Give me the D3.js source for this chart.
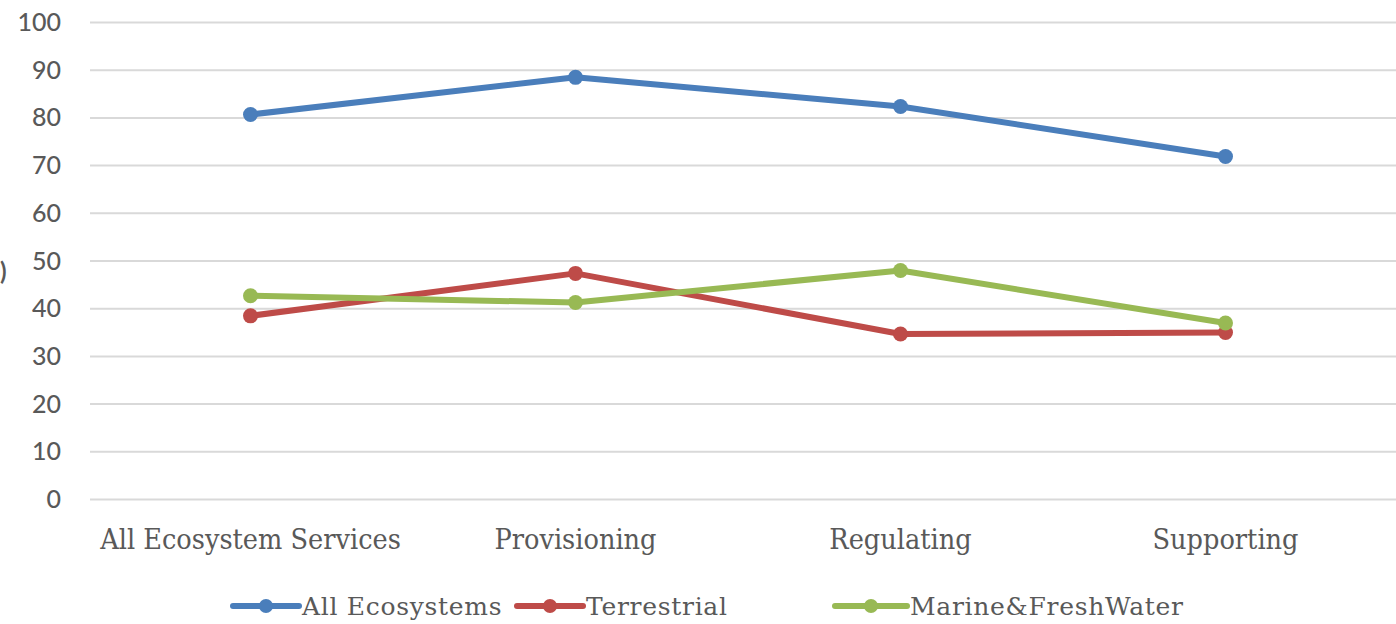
<!DOCTYPE html>
<html><head><meta charset="utf-8">
<script src="https://cdn.jsdelivr.net/npm/d3@7"></script>
<style>
body{margin:0;background:#fff;}
svg{display:block;}
</style></head>
<body>
<svg id="chart" width="1396" height="624"></svg>
<script>
const categories = ["All Ecosystem Services", "Provisioning", "Regulating", "Supporting"];
const allEcosystems = [80.6, 88.4, 82.3, 71.8];
const terrestrial = [38.4, 47.3, 34.6, 34.9];
const marineFresh = [42.6, 41.2, 47.9, 36.9];
const seriesNames = ["All Ecosystems", "Terrestrial", "Marine&FreshWater"];
const seriesColors = ["#4a7ebb", "#be4b48", "#98b954"];
const yTicks = [0, 10, 20, 30, 40, 50, 60, 70, 80, 90, 100];

const series = [allEcosystems, terrestrial, marineFresh].map((v, i) => ({name: seriesNames[i], color: seriesColors[i], values: v}));

const svg = d3.select("#chart");
const x = d3.scaleBand().domain(categories).range([88, 1388]);
const y = d3.scaleLinear().domain([0, 100]).range([499, 22]);

// gridlines
const yAxis = d3.axisLeft(y).tickValues(yTicks).tickSize(-(1396 - 90)).tickPadding(30);
const gy = svg.append("g").attr("transform", "translate(90,0)").call(yAxis);
gy.select(".domain").remove();
gy.selectAll(".tick line").attr("stroke", "#d9d9d9").attr("stroke-width", 2);
gy.selectAll(".tick text").attr("fill", "#595959").attr("font-family", "Lato, 'Open Sans', sans-serif")
  .attr("font-size", 25).attr("font-weight", 500).attr("x", -29).attr("dy", "0.34em");

// x axis labels
const xAxis = d3.axisBottom(x).tickSize(0).tickPadding(0);
const gx = svg.append("g").attr("transform", "translate(0,528)").call(xAxis);
gx.select(".domain").remove();
gx.selectAll(".tick text").attr("fill", "#595959").attr("font-family", "'DejaVu Serif', serif")
  .attr("font-size", 28.5).style("font-stretch", "condensed").attr("dy", "0.74em");

// partial axis title glyph at left edge
svg.append("text").attr("x", 0).attr("y", 280).attr("font-size", 24).attr("font-weight", 700).attr("fill", "#595959")
  .attr("font-family", "Lato, sans-serif").text(")");

const line = d3.line().x((d, i) => x(categories[i]) + x.bandwidth() / 2).y(d => y(d));

series.forEach(s => {
  svg.append("path").datum(s.values).attr("d", line).attr("fill", "none")
    .attr("stroke", s.color).attr("stroke-width", 6).attr("stroke-linejoin", "round");
  svg.selectAll(null).data(s.values).enter().append("circle")
    .attr("cx", (d, i) => x(categories[i]) + x.bandwidth() / 2)
    .attr("cy", d => y(d)).attr("r", 7.5).attr("fill", s.color);
});

// legend
const legendX = [233, 517, 835];
const legendW = [66, 66, 72];
const legendY = 606;
series.forEach((s, i) => {
  const g = svg.append("g");
  g.append("line").attr("x1", legendX[i]).attr("x2", legendX[i] + legendW[i]).attr("y1", legendY).attr("y2", legendY)
    .attr("stroke", s.color).attr("stroke-width", 6).attr("stroke-linecap", "round");
  g.append("circle").attr("cx", legendX[i] + legendW[i] / 2).attr("cy", legendY).attr("r", 7).attr("fill", s.color);
  g.append("text").attr("x", legendX[i] + legendW[i] + 3).attr("y", legendY).attr("dy", "0.36em")
    .attr("fill", "#595959").attr("font-family", "'DejaVu Serif', serif").attr("font-size", 25)
    .attr("letter-spacing", 0.7).text(s.name);
});
</script>
</body></html>
